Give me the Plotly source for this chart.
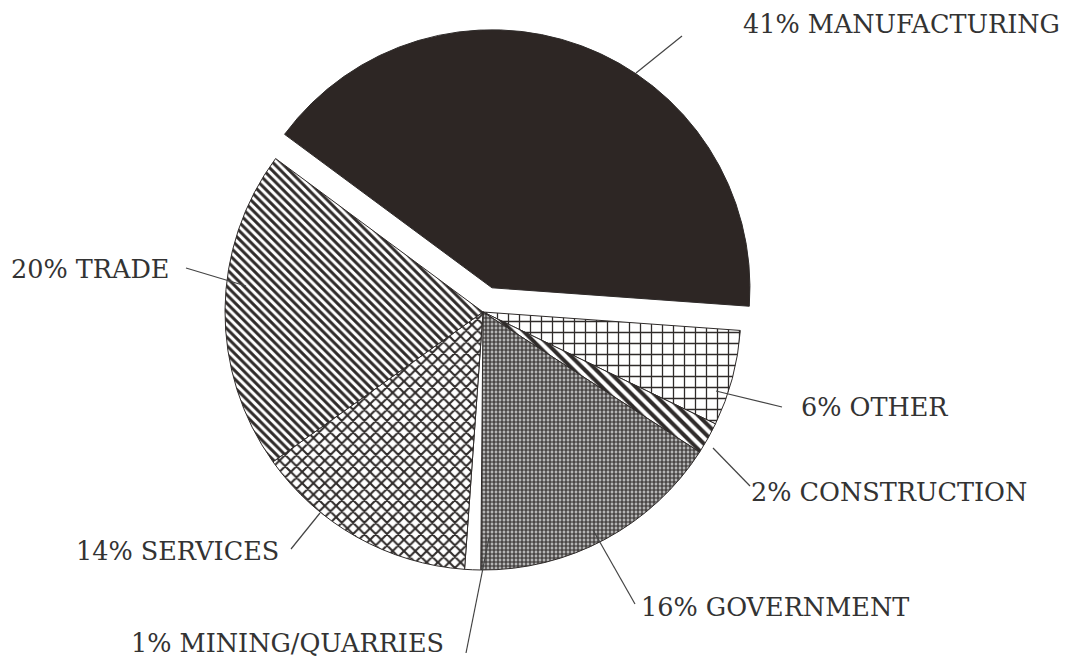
import plotly.graph_objects as go

W, H = 1068, 657

labels = ["MANUFACTURING", "OTHER", "CONSTRUCTION", "GOVERNMENT",
          "MINING/QUARRIES", "SERVICES", "TRADE"]
values = [41, 6, 2, 16, 1, 14, 20]
pulls = [0.1, 0, 0, 0, 0, 0, 0]

# label text anchor (left x, middle y) in pixels and leader lines (pixels)
label_pos = [(742, 22), (800, 405), (750, 490), (640, 605), (130, 641), (75, 549), (10, 267)]
leaders = [((628, 65), (674, 28)), ((708, 383), (774, 399)), ((705, 440), (742, 478)),
           ((585, 522), (627, 596)), ((481, 530), (458, 645)), ((312, 505), (283, 541)),
           ((178, 260), (238, 278))]

ink = "#2f2b2a"
shapes_pat = [
    dict(shape="", fgcolor=ink, bgcolor="#2d2624", solidity=1),
    dict(shape="+", fgcolor=ink, bgcolor="white", size=11, solidity=0.22),
    dict(shape="\\", fgcolor=ink, bgcolor="white", size=8, solidity=0.5),
    dict(shape="+", fgcolor=ink, bgcolor="#b5b5b5", size=4, solidity=0.5),
    dict(shape="", fgcolor=ink, bgcolor="white", solidity=0),
    dict(shape="x", fgcolor=ink, bgcolor="white", size=8, solidity=0.45),
    dict(shape="\\", fgcolor=ink, bgcolor="white", size=6, solidity=0.5),
]
colors = ["#2d2624", "white", "white", "#9a9a9a", "white", "white", "white"]


def px(x):
    return x / W


def py(y):
    return 1 - y / H


cx, cy, R = 475, 304, 258
half = R * (1 + max(pulls))

fig = go.Figure(go.Pie(
    labels=labels, values=values, sort=False, direction="clockwise",
    rotation=-53.5, pull=pulls, textinfo="none", hoverinfo="label+percent",
    marker=dict(colors=colors, line=dict(color=ink, width=1),
                pattern=dict(shape=[p["shape"] for p in shapes_pat],
                             fgcolor=[p["fgcolor"] for p in shapes_pat],
                             bgcolor=[p["bgcolor"] for p in shapes_pat],
                             size=[p.get("size", 8) for p in shapes_pat],
                             solidity=[p["solidity"] for p in shapes_pat])),
    domain=dict(x=[px(cx - half), px(cx + half)], y=[py(cy + half), py(cy - half)]),
    showlegend=False,
))

shapes = []
for (a, b) in leaders:
    shapes.append(dict(type="line", xref="paper", yref="paper",
                       x0=px(a[0]), y0=py(a[1]), x1=px(b[0]), y1=py(b[1]),
                       line=dict(color="#444", width=1.2)))

annotations = []
for lab, v, (x, y) in zip(labels, values, label_pos):
    annotations.append(dict(text=f"{v}% {lab}", xref="paper", yref="paper",
                            x=px(x - 9), y=py(y - 6), xanchor="left", yanchor="middle",
                            showarrow=False,
                            font=dict(family="DejaVu Serif", size=25.5, color="#333")))

fig.update_layout(width=W, height=H, margin=dict(l=0, r=0, t=0, b=0),
                  paper_bgcolor="white", plot_bgcolor="white",
                  shapes=shapes, annotations=annotations)

fig.write_html("out.html")
